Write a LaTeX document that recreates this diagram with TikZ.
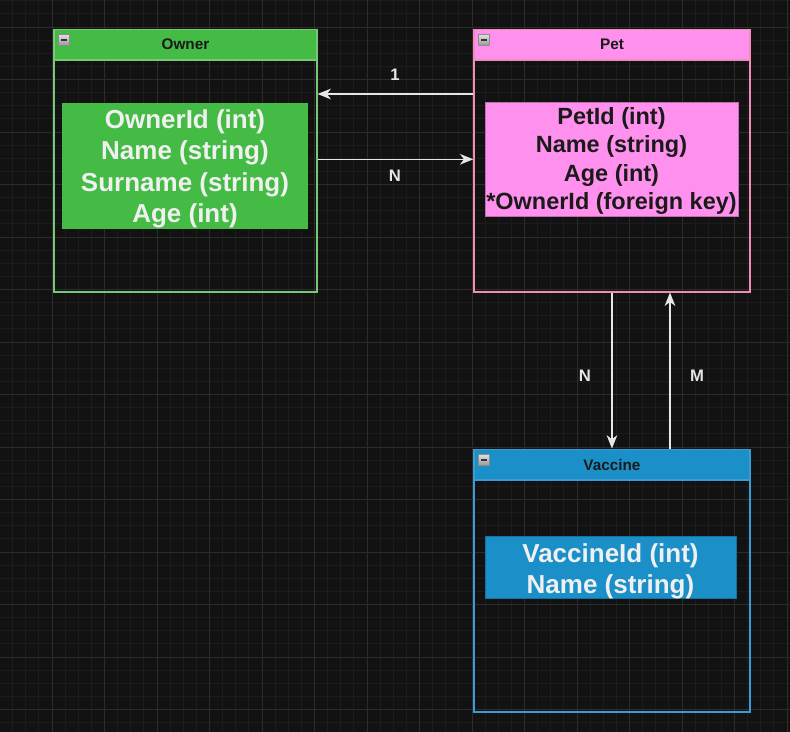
\documentclass[tikz,border=0pt]{standalone}
\usepackage{fontspec}
\setmainfont{Liberation Sans}
\usetikzlibrary{arrows.meta,positioning}

\definecolor{canvas}{HTML}{121212}
\definecolor{gridminor}{HTML}{1C1C1C}
\definecolor{gridmajor}{HTML}{2C2C2C}
\definecolor{ownergreen}{HTML}{44BB44}
\definecolor{ownerline}{HTML}{78C878}
\definecolor{petpink}{HTML}{FF90EE}
\definecolor{petline}{HTML}{F08CB8}
\definecolor{vaccineblue}{HTML}{1A8FC8}
\definecolor{vaccineline}{HTML}{3D9BD3}
\definecolor{headtext}{HTML}{1A1A1A}
\definecolor{lighttext}{HTML}{F0F0F0}
\definecolor{linkgray}{HTML}{E6E6E6}

\newcommand{\pxl}{0.75pt}
% field list, lowered a little inside its box
\newcommand{\fieldlist}[2]{\raisebox{-#1}[\height][\depth]{\begin{tabular}{@{}c@{}}#2\end{tabular}}}

\tikzset{
  entity/.style={draw, line width=1.2pt, minimum height=262.5*\pxl, anchor=north west, inner sep=0pt},
  header/.style={draw, line width=1.2pt, minimum height=30.5*\pxl, anchor=north west, inner sep=0pt,
    text=headtext, font=\fontsize{11.5}{14}\selectfont\bfseries},
  toggle/.style={draw=black!45, line width=0.5pt, top color=black!12, bottom color=black!40,
    minimum size=11*\pxl, inner sep=0pt, anchor=north west,
    path picture={\draw[line width=1.1pt, black!80]
      ([xshift=2pt]path picture bounding box.west) -- ([xshift=-2pt]path picture bounding box.east);}},
  fields/.style={inner sep=0pt, font=\fontsize{19.5}{23.6}\selectfont\bfseries},
  link/.style={draw=linkgray, line width=1.1pt, -{Stealth[length=10pt,width=8pt,inset=3pt]}},
  linklabel/.style={text=linkgray, font=\fontsize{12.5}{14}\selectfont\bfseries},
  minorgrid/.style={draw=gridminor, line width=0.75pt},
  majorgrid/.style={draw=gridmajor, line width=0.75pt},
}

\begin{document}
\begin{tikzpicture}[x=0.75pt, y=-0.75pt]
  % canvas and grid
  \useasboundingbox (0,0) rectangle (790,732);
  \fill[canvas] (0,0) rectangle (790,732);
  \begin{scope}
    \clip (0,0) rectangle (790,732);
    \foreach \i in {0,...,61}
      \draw[minorgrid] ({-0.5+13.125*\i},0) -- ({-0.5+13.125*\i},732);
    \foreach \j in {0,...,58}
      \draw[minorgrid] (0,{-25.5+13.125*\j}) -- (790,{-25.5+13.125*\j});
    \foreach \i in {0,...,15}
      \draw[majorgrid] ({-0.5+52.5*\i},0) -- ({-0.5+52.5*\i},732);
    \foreach \j in {0,...,14}
      \draw[majorgrid] (0,{-25.5+52.5*\j}) -- (790,{-25.5+52.5*\j});
  \end{scope}

  % tables
  \node[entity, draw=ownerline, minimum width=262.7*\pxl] (owner) at (53.3,28.5) {};
  \node[header, draw=ownerline, fill=ownergreen, minimum width=262.7*\pxl] (ownerhead) at (owner.north west) {Owner};
  \node[toggle] (ownertoggle) at ([shift={(5,5.5)}]owner.north west) {};
  \node[fields, fill=ownergreen, text=lighttext, minimum width=246*\pxl, minimum height=126*\pxl] (ownerfields) at (185,166)
    {\fieldlist{2.25pt}{OwnerId (int)\\Name (string)\\Surname (string)\\Age (int)}};

  \node[entity, draw=petline, minimum width=275.7*\pxl] (pet) at (473.3,28.5) {};
  \node[header, draw=petline, fill=petpink, minimum width=275.7*\pxl] (pethead) at (pet.north west) {Pet};
  \node[toggle] (pettoggle) at ([shift={(5,5.5)}]pet.north west) {};
  \node[fields, fill=petpink, draw=petpink!75!black, text=headtext, minimum width=253*\pxl, minimum height=113*\pxl,
    font=\fontsize{17.6}{21.4}\selectfont\bfseries] (petfields) at (611.5,159.5)
    {\fieldlist{1.2pt}{PetId (int)\\Name (string)\\Age (int)\\{}*OwnerId (foreign key)}};

  \node[entity, draw=vaccineline, minimum width=275.7*\pxl] (vaccine) at (473.3,448.5) {};
  \node[header, draw=vaccineline, fill=vaccineblue, minimum width=275.7*\pxl] (vaccinehead) at (vaccine.north west) {Vaccine};
  \node[toggle] (vaccinetoggle) at ([shift={(5,5.5)}]vaccine.north west) {};
  \node[fields, fill=vaccineblue, draw=vaccineblue!80!black, text=lighttext, minimum width=251*\pxl, minimum height=62*\pxl,
    font=\fontsize{19.5}{23.3}\selectfont\bfseries] (vaccinefields) at (610.5,567)
    {\fieldlist{3.5pt}{VaccineId (int)\\Name (string)}};

  % relations
  \draw[link] (pet.west |- 0,94) -- (owner.east |- 0,94);
  \draw[link] (owner.east |- 0,159.3) -- (pet.west |- 0,159.3);
  \draw[link] (pet.south) -- (vaccine.north);
  \draw[link] (vaccine.north -| 670,0) -- (pet.south -| 670,0);
  \node[linklabel] (labelone) at (395,75) {1};
  \node[linklabel] (labelownerpet) at (395,176) {N};
  \node[linklabel] (labelpetvaccine) at (585,376) {N};
  \node[linklabel] (labelvaccinepet) at (697,376) {M};
\end{tikzpicture}
\end{document}
